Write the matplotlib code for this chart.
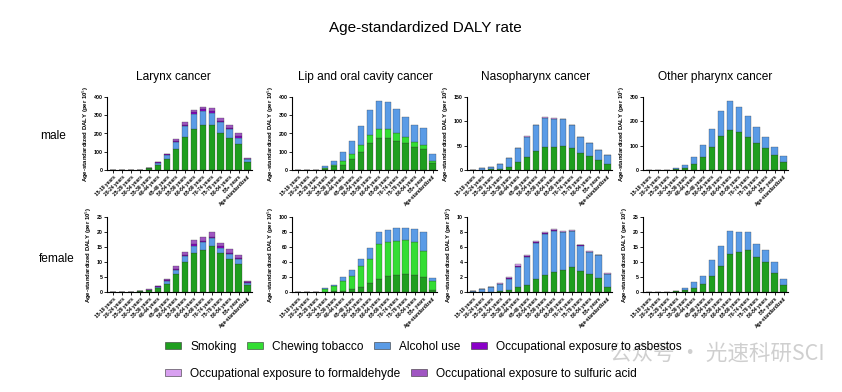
import matplotlib
matplotlib.use("Agg")
import matplotlib.pyplot as plt
import numpy as np
from matplotlib.patches import Patch

plt.rcParams["font.family"] = ["Liberation Sans", "DejaVu Sans"]

ages = ["15-19 years", "20-24 years", "25-29 years", "30-34 years", "35-39 years",
        "40-44 years", "45-49 years", "50-54 years", "55-59 years", "60-64 years",
        "65-69 years", "70-74 years", "75-79 years", "80-84 years", "85+ years",
        "Age-standardized"]

risks = ["Smoking", "Chewing tobacco", "Alcohol use",
         "Occupational exposure to asbestos",
         "Occupational exposure to formaldehyde",
         "Occupational exposure to sulfuric acid"]
colors = ["#1f9e1f", "#33dd33", "#5a9be6", "#8a00c8", "#d8a0f0", "#a056c2"]

cancers = ["Larynx cancer", "Lip and oral cavity cancer", "Nasopharynx cancer", "Other pharynx cancer"]
sexes = ["male", "female"]
zero = [0] * 16

# ---- male ----
larynx_m_smoking = [0, 0, 0, 0.5, 10, 27, 60, 115, 180, 227, 249, 244, 205, 178, 140, 45]
larynx_m_alcohol = [0, 0, 0, 0.3, 2, 13, 22, 40, 60, 82, 76, 71, 57, 44, 38, 15]
larynx_m_asbestos = [0, 0, 0, 0, 0.5, 2, 3, 5, 8, 7, 8, 8, 8, 9, 8, 3]
larynx_m_sulfuric = [0, 0, 0, 0, 1, 3, 4, 9, 14, 11, 14, 15, 15, 18, 14, 4]

lip_m_smoking = [0, 0, 0.5, 6, 20, 27, 60, 100, 149, 173, 176, 158, 149, 127, 113, 40]
lip_m_chewing = [0, 0, 0.3, 4, 10, 22, 27, 36, 42, 49, 49, 46, 33, 24, 23, 9]
lip_m_alcohol = [0, 0, 1.2, 12, 19, 47, 71, 106, 136, 154, 146, 131, 111, 94, 95, 40]

naso_m_smoking = [0.3, 1, 2, 3, 6, 16, 27, 39, 47, 48, 50, 46, 35, 29, 21, 13]
naso_m_alcohol = [0.7, 2.4, 3.5, 8.4, 18, 29, 41, 52.5, 59.5, 56.5, 53.8, 46, 32.2, 25.5, 19.7, 17.6]
naso_m_formaldehyde = [0, 0, 0, 0.2, 0.5, 1, 1, 1.5, 1.5, 1.5, 1.2, 1, 0.8, 0.5, 0.3, 0.4]

other_m_smoking = [0, 0, 0.3, 4, 10, 25, 55, 94, 139, 166, 156, 136, 112, 90, 60, 33]
other_m_alcohol = [0, 0, 0.2, 3, 10, 30, 47, 75, 105, 116, 102, 86, 63, 45, 34, 26]

# ---- female ----
larynx_f_smoking = [0, 0, 0.05, 0.3, 0.6, 1.35, 2.8, 6.05, 9.9, 12.9, 13.9, 15.5, 12.9, 11.1, 9.5, 2.4]
larynx_f_alcohol = [0, 0, 0.03, 0.1, 0.2, 0.45, 0.9, 1.25, 2.1, 2.6, 2.7, 2.4, 1.9, 1.5, 1.4, 0.6]
larynx_f_asbestos = [0, 0, 0, 0.02, 0.03, 0.1, 0.2, 0.3, 0.4, 0.4, 0.4, 0.5, 0.5, 0.4, 0.4, 0.2]
larynx_f_sulfuric = [0, 0, 0.02, 0.03, 0.07, 0.2, 0.5, 1.0, 1.1, 1.5, 1.4, 1.6, 1.2, 1.2, 1.0, 0.4]

lip_f_smoking = [0, 0, 0.05, 0.5, 1, 1.8, 3.6, 7.2, 12.2, 18, 21.6, 22.5, 23.4, 22.5, 20.3, 2.5]
lip_f_chewing = [0, 0, 0.2, 4.0, 6.7, 13.5, 18.4, 27.5, 31.9, 45.5, 45.1, 45.5, 46.4, 44.5, 34.7, 11.9]
lip_f_alcohol = [0, 0, 0.05, 0.9, 2.2, 5.0, 7.3, 9.9, 14.5, 16.2, 15.7, 16.7, 16.2, 17.2, 24.7, 4.5]

naso_f_smoking = [0.02, 0.03, 0.05, 0.1, 0.22, 0.63, 1.0, 1.75, 2.24, 2.65, 3.0, 3.3, 2.78, 2.38, 1.88, 0.72]
naso_f_alcohol = [0.10, 0.39, 0.63, 0.98, 1.53, 2.73, 3.66, 4.8, 5.56, 5.51, 4.98, 4.8, 3.42, 3.0, 3.02, 1.66]
naso_f_asbestos = [0.02, 0, 0.01, 0.05, 0.08, 0.14, 0.1, 0.08, 0.05, 0.05, 0.03, 0.05, 0.03, 0.02, 0.01, 0.05]
naso_f_formaldehyde = [0.04, 0.03, 0.03, 0.12, 0.17, 0.3, 0.24, 0.17, 0.15, 0.19, 0.06, 0.15, 0.07, 0.07, 0.02, 0.12]

other_f_smoking = [0, 0, 0, 0.2, 0.55, 1.25, 2.6, 5.5, 8.8, 12.8, 13.3, 13.9, 11.6, 10.0, 6.3, 2.5]
other_f_alcohol = [0, 0, 0, 0.25, 0.8, 2.05, 2.8, 5.2, 6.4, 7.4, 6.7, 6.1, 4.5, 3.9, 3.7, 1.7]

# per panel: components in legend order
panels = {
    ("male", 0): [larynx_m_smoking, zero, larynx_m_alcohol, larynx_m_asbestos, zero, larynx_m_sulfuric],
    ("male", 1): [lip_m_smoking, lip_m_chewing, lip_m_alcohol, zero, zero, zero],
    ("male", 2): [naso_m_smoking, zero, naso_m_alcohol, zero, naso_m_formaldehyde, zero],
    ("male", 3): [other_m_smoking, zero, other_m_alcohol, zero, zero, zero],
    ("female", 0): [larynx_f_smoking, zero, larynx_f_alcohol, larynx_f_asbestos, zero, larynx_f_sulfuric],
    ("female", 1): [lip_f_smoking, lip_f_chewing, lip_f_alcohol, zero, zero, zero],
    ("female", 2): [naso_f_smoking, zero, naso_f_alcohol, naso_f_asbestos, naso_f_formaldehyde, zero],
    ("female", 3): [other_f_smoking, zero, other_f_alcohol, zero, zero, zero],
}
yticks = {
    ("male", 0): [0, 100, 200, 300, 400], ("male", 1): [0, 100, 200, 300, 400],
    ("male", 2): [0, 50, 100, 150], ("male", 3): [0, 100, 200, 300],
    ("female", 0): [0, 5, 10, 15, 20, 25], ("female", 1): [0, 20, 40, 60, 80, 100],
    ("female", 2): [0, 2, 4, 6, 8, 10], ("female", 3): [0, 5, 10, 15, 20, 25],
}

W, H = 842, 392
fig = plt.figure(figsize=(W / 100, H / 100), dpi=100)

col_left = [107, 292, 467, 643]
col_title_x = [173, 365, 536, 715]
row_top = {"male": 97, "female": 217}
row_h = {"male": 73, "female": 75}
ax_w = 145

x = np.arange(len(ages))
for sex in sexes:
    for c in range(4):
        left = col_left[c] / W
        bottom = 1 - (row_top[sex] + row_h[sex]) / H
        ax = fig.add_axes([left, bottom, ax_w / W, row_h[sex] / H])
        base = np.zeros(len(ages))
        for vals, col in zip(panels[(sex, c)], colors):
            v = np.array(vals, dtype=float)
            if v.sum() == 0:
                continue
            ax.bar(x, v, bottom=base, width=0.72, color=col,
                   edgecolor="#333333", linewidth=0.2)
            base += v
        yt = yticks[(sex, c)]
        ax.set_ylim(0, yt[-1])
        ax.set_yticks(yt)
        ax.set_yticklabels([str(t) for t in yt], fontsize=3.7, fontweight="bold")
        ax.set_xlim(-0.7, 15.5)
        ax.set_xticks(x)
        ax.set_xticklabels(ages, rotation=45, ha="right", rotation_mode="anchor",
                           fontsize=3.5, fontweight="bold")
        ax.set_ylabel("Age-standardized DALY (per 10$^5$)", fontsize=4.3,
                      fontweight="bold", labelpad=2)
        for s in ["top", "right"]:
            ax.spines[s].set_visible(False)
        for s in ["left", "bottom"]:
            ax.spines[s].set_linewidth(0.8)
        ax.tick_params(axis="both", length=2, width=0.6, pad=1)

for c, name in enumerate(cancers):
    fig.text(col_title_x[c] / W, 1 - 77 / H, name, ha="center", va="center", fontsize=8.6)

fig.text(53 / W, 1 - 136 / H, "male", ha="center", va="center", fontsize=8.6)
fig.text(57 / W, 1 - 259 / H, "female", ha="center", va="center", fontsize=8.6)
fig.text(425 / W, 1 - 28 / H, "Age-standardized DALY rate", ha="center", va="center", fontsize=11)

handles = [Patch(facecolor=col, edgecolor="#333333", linewidth=0.4, label=r)
           for r, col in zip(risks, colors)]
leg_kw = dict(frameon=False, fontsize=8.6, handlelength=1.36, handleheight=0.5,
              handletextpad=0.76, columnspacing=0.85, borderpad=0, borderaxespad=0,
              loc="center left")
fig.legend(handles=handles[:4], ncol=4, bbox_to_anchor=(165 / W, 1 - 347 / H), **leg_kw)
fig.legend(handles=handles[4:], ncol=2, bbox_to_anchor=(165 / W, 1 - 374 / H), **leg_kw)

# watermark
fig.text(610 / W, 1 - 354 / H, "公众号 · 光速科研SCI", ha="left", va="center", fontsize=15.5,
         color="#c4c4c4", alpha=0.8, family=["Noto Sans CJK SC", "DejaVu Sans"])

fig.savefig("out.png", dpi=100)
